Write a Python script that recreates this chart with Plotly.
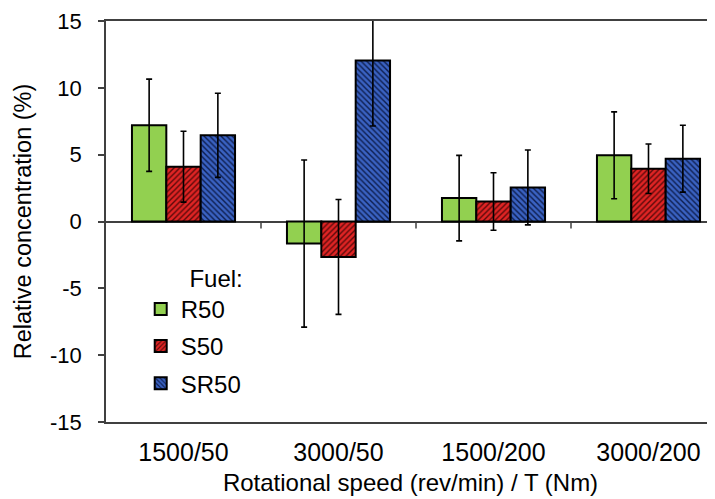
import plotly.graph_objects as go

categories = ["1500/50", "3000/50", "1500/200", "3000/200"]
series_names = ["R50", "S50", "SR50"]
r50 = [7.2, -1.65, 1.75, 4.95]
s50 = [4.1, -2.65, 1.5, 3.95]
sr50 = [6.45, 12.05, 2.55, 4.7]
r50_err = [3.45, 6.25, 3.2, 3.25]
s50_err = [2.65, 4.3, 2.15, 1.85]
sr50_err = [3.15, 4.9, 2.8, 2.5]
y_ticks = [-15, -10, -5, 0, 5, 10, 15]

values = [r50, s50, sr50]
errors = [r50_err, s50_err, sr50_err]
colors = ["#92D050", "#E02424", "#3A62C2"]
pat_fg = [None, "#5A0A0A", "#0E1E4E"]
patterns = ["", "/", "\\"]

FONT = "Liberation Sans, Arial, sans-serif"
AX = "#404040"

fig = go.Figure()
x_idx = list(range(len(categories)))
for i, name in enumerate(series_names):
    marker = dict(color=colors[i], line=dict(color="black", width=2))
    if patterns[i]:
        marker["pattern"] = dict(shape=patterns[i], fgcolor=pat_fg[i], bgcolor=colors[i],
                                 size=4, solidity=0.35, fillmode="replace")
    fig.add_trace(go.Bar(
        x=x_idx, y=values[i], name=name, marker=marker,
        legendgroup=name,
        error_y=dict(type="data", array=errors[i], color="black", thickness=1.6, width=3),
    ))

for b in [0.5, 1.5, 2.5]:
    fig.add_shape(type="line", xref="x", yref="y", x0=b, x1=b, ysizemode="pixel",
                  yanchor=0, y0=0, y1=-7, line=dict(color=AX, width=1.5))

# page has an 8px body margin; figure is sized so the plot lands where the reference's does
fig.update_layout(
    width=707, height=491,
    margin=dict(l=98, r=0, t=13, b=77, autoexpand=False),
    paper_bgcolor="white", plot_bgcolor="white",
    font=dict(family=FONT, size=22, color="black"),
    barmode="group", bargap=0.335, bargroupgap=0,
    showlegend=True,
    legend=dict(x=0.057, y=0.415, xanchor="left", yanchor="top",
                title=dict(text="\u00a0" * 7 + "Fuel:", side="top", font=dict(size=24)),
                font=dict(size=24), bgcolor="rgba(0,0,0,0)",
                traceorder="grouped", tracegroupgap=3, itemwidth=30),
    xaxis=dict(range=[-0.5, -0.5 + 609 / 155], tickvals=x_idx, ticktext=categories,
               tickfont=dict(size=25), ticklabelstandoff=7,
               showline=True, mirror=True, linecolor=AX, linewidth=1.5,
               ticks="", showgrid=False, zeroline=False, automargin=False,
               title=dict(text="Rotational speed (rev/min) / T (Nm)", standoff=9,
                          font=dict(size=24))),
    yaxis=dict(range=[-15, 15], tickvals=y_ticks, ticktext=[str(v) for v in y_ticks],
               tickfont=dict(size=22), ticklabelstandoff=12,
               showline=True, linecolor=AX, linewidth=1.5,
               ticks="outside", ticklen=6, tickcolor=AX, tickwidth=1.5,
               showgrid=False, zeroline=True, zerolinecolor=AX, zerolinewidth=1.5,
               automargin=False,
               title=dict(text="Relative concentration (%)", standoff=12,
                          font=dict(size=23.5))),
)

fig.write_html("out.html")
